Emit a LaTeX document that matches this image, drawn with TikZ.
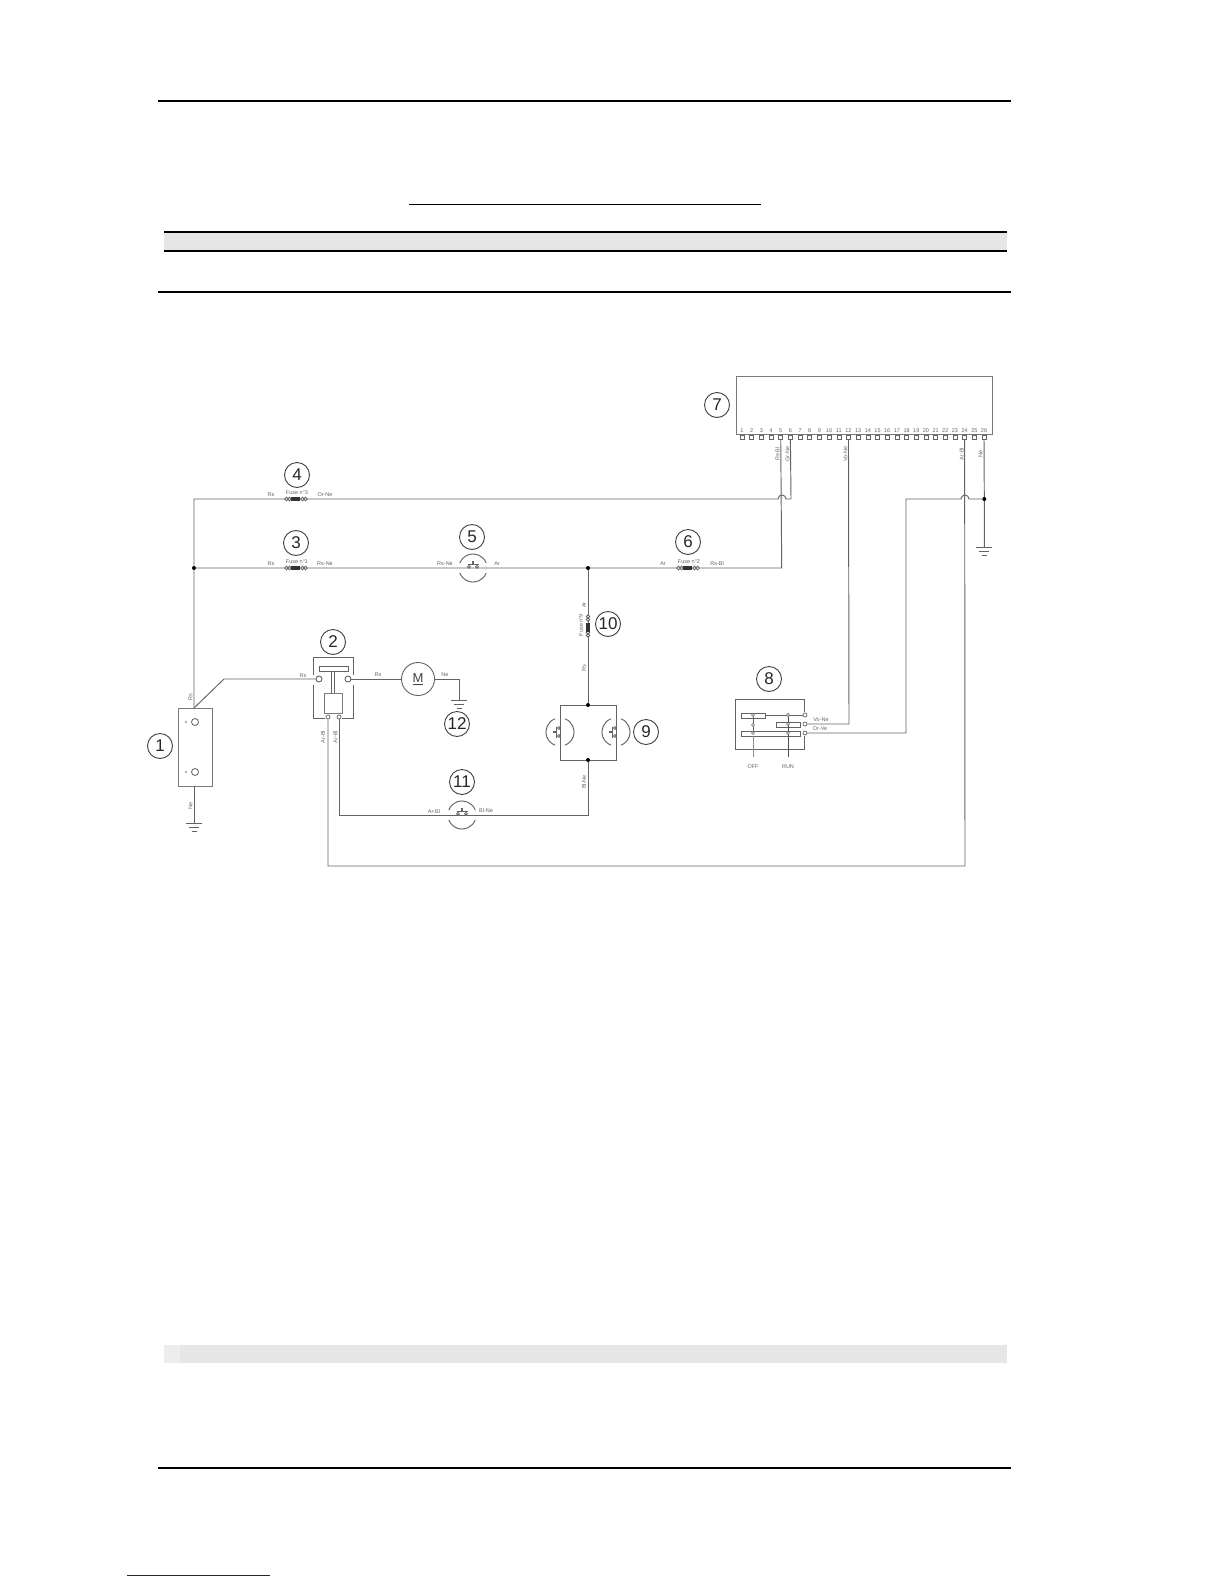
\documentclass[tikz,border=0pt]{standalone}
\usepackage{fontspec}
\setmainfont{Liberation Sans}
\definecolor{wirecol}{HTML}{636363}
\definecolor{textcol}{HTML}{666666}
\definecolor{bandcol}{HTML}{E6E6E6}
\definecolor{linkcol}{HTML}{1A1A8C}
\tikzset{
  wire/.style={draw=wirecol,line width=0.95pt,line join=miter},
  thinw/.style={draw=wirecol,line width=0.8pt},
  boxnode/.style={draw=wirecol!85,line width=0.95pt,fill=white,inner sep=0pt},
  wl/.style={font=\fontsize{5.5}{6}\selectfont,text=textcol,inner sep=0pt},
  wlr/.style={wl,rotate=90},
  callout/.style={circle,draw=black!75,line width=0.9pt,minimum size=25pt,inner sep=0pt,fill=white,font=\fontsize{17}{18}\selectfont,text=black!85},
  jdot/.style={circle,fill=black,inner sep=0pt,minimum size=4pt},
  pinnum/.style={font=\fontsize{5.5}{6}\selectfont,text=textcol,inner sep=0pt},
  pinbox/.style={draw=wirecol,line width=0.6pt,fill=white,minimum width=4pt,minimum height=3.5pt,inner sep=0pt},
  tinyc/.style={circle,draw=wirecol,line width=0.7pt,fill=white,minimum size=4pt,inner sep=0pt},
  rule/.style={line width=2.6pt,draw=black},
  rulethin/.style={line width=1.6pt,draw=black},
  pics/fusepic/.style={code={
    \draw[thinw,fill=white] (-9.5,0) circle (1.8) (-6.5,0) circle (1.8) (6.5,0) circle (1.8) (9.5,0) circle (1.8);
    \fill[black!80] (-5.5,-2) rectangle (3.5,2);
  }},
  pics/pushpic/.style={code={
    \draw[draw=wirecol,line width=0.95pt] (13.2,-5) arc[start angle=-21,end angle=-159,radius=14.1];
    \draw[draw=wirecol,line width=0.95pt] (13.2,5) arc[start angle=21,end angle=159,radius=14.1];
    \draw[thinw,fill=white] (-4,-1.2) circle (1.4) (4,-1.2) circle (1.4);
    \draw[thinw] (-5.5,-4) -- (5.5,-4);
    \draw[wirecol,line width=1.4pt] (0,-4) -- (0,-7);
  }},
  pics/groundpic/.style={code={
    \draw[wire] (-8,0) -- (8,0);
    \draw[thinw] (-5,4.5) -- (5,4.5);
    \draw[thinw] (-2.5,8.5) -- (2.5,8.5);
  }},
}
\begin{document}
\begin{tikzpicture}[x=1pt,y=-1pt]
\useasboundingbox (0,0) rectangle (1224,1584);
% page furniture
\draw[rule] (158,101) -- (1011,101);
\draw[draw=black,line width=1pt] (409,204) -- (761,204);
\fill[bandcol] (164,232) rectangle (1007,251);
\draw[rulethin] (164,232) -- (1007,232);
\draw[draw=black,line width=1.1pt] (164,251) -- (1007,251);
\draw[rulethin] (158,292) -- (1011,292);
\fill[bandcol] (164,1345) rectangle (1007,1363);
\fill[black!7] (164,1345) rectangle (180,1363);
\draw[rule] (158,1468) -- (1011,1468);
\draw[draw=linkcol,line width=1pt] (127,1575) -- (270,1575);

% ECU 7
\node[boxnode,minimum width=256pt,minimum height=58pt] (ecu) at (864,405) {};
\foreach \n in {1,...,26}{
  \pgfmathsetmacro{\px}{742+(\n-1)*9.68}
  \node[pinnum] (num\n) at (\px,430.5) {\n};
  \node[pinbox] (pin\n) at (\px,437.5) {};
}
% junctions and bends
\coordinate (tl) at (194,499);
\node[jdot] (j3) at (194,568) {};
\node[jdot] (j10) at (588,568) {};
\node[jdot] (j9t) at (588,705) {};
\node[jdot] (j9b) at (588,760) {};
\node[jdot] (j26) at (984.3,499) {};
\coordinate (t6) at (791,499);
\coordinate (h5l) at (778,499);
\coordinate (h5r) at (786,499);
\coordinate (h24l) at (961,499);
\coordinate (h24r) at (969,499);
\coordinate (orbend) at (906,499);
\coordinate (b5) at (781.7,568);
\coordinate (diag) at (224,679);

% battery 1
\node[boxnode,minimum width=34pt,minimum height=78pt] (bat) at (195,747) {};
\node[circle,draw=wirecol,line width=0.8pt,minimum size=7pt,inner sep=0pt] (batp) at (195,722) {};
\node[circle,draw=wirecol,line width=0.8pt,minimum size=7pt,inner sep=0pt] (batn) at (195,772) {};
\fill[wirecol] (186,722) circle (0.9) (186,772) circle (0.9);
\coordinate (batg) at (194,823);
\pic at (batg) {groundpic};
\draw[wire] (194,786) -- (batg);

% relay 2
\draw[wire] (313,675) -- (313,657) -- (353,657) -- (353,675);
\draw[wire] (313,685) -- (313,718) -- (325,718);
\draw[wire] (353,685) -- (353,718) -- (342,718);
\draw[thinw,fill=white] (319,666) rectangle (348,671);
\draw[thinw] (331,671) -- (331,693) (334,671) -- (334,693);
\node[boxnode,line width=0.9pt,minimum width=18pt,minimum height=20pt] (coil) at (333,703) {};
\node[tinyc] (ct1) at (328,717) {};
\node[tinyc] (ct2) at (339,717) {};
\node[circle,draw=wirecol,line width=0.9pt,fill=white,minimum size=6pt,inner sep=0pt] (rl) at (319,679) {};
\node[circle,draw=wirecol,line width=0.9pt,fill=white,minimum size=6pt,inner sep=0pt] (rr) at (348,679) {};

% motor
\node[circle,draw=wirecol,line width=0.9pt,fill=white,minimum size=33pt,inner sep=0pt,font=\fontsize{13}{14}\selectfont,text=black!75] (mot) at (418,679) {\underline{M}};
\coordinate (mr) at (459,679);
\coordinate (mg) at (459,700);
\pic at (mg) {groundpic};

% switch box 9
\coordinate (s9tl) at (560,705);
\coordinate (s9tr) at (616,705);
\coordinate (s9bl) at (560,760);
\coordinate (s9br) at (616,760);
\coordinate (s5) at (473,568);
\coordinate (s11) at (462,815);
\coordinate (br11) at (588,815);
\coordinate (bl11) at (339,815);
\coordinate (blow) at (328,866);
\coordinate (brow) at (965,866);
\coordinate (gnd26) at (984.3,547);
\pic at (gnd26) {groundpic};

% block 8
\draw[wire] (804,712) -- (804,699) -- (735,699) -- (735,749) -- (804,749) -- (804,736);
\draw[thinw,fill=white] (741,713) rectangle (765,718);
\draw[thinw,fill=white] (776,722) rectangle (800,727);
\draw[thinw,fill=white] (741,731) rectangle (800,736);
\draw[thinw] (765,715) -- (803,715);
\draw[thinw] (753,715) -- (753,733);
\draw[draw=black!45,line width=0.8pt] (753,736) -- (753,757);
\draw[draw=black!70,line width=0.8pt] (788,713) -- (788,757);
\foreach \nm/\xx/\yy in {d1/753/715,d2/753/725,d3/753/733,d4/788/715,d5/788/724,d6/788/733}{
  \node[circle,draw=wirecol,line width=0.6pt,fill=white,minimum size=3pt,inner sep=0pt] (\nm) at (\xx,\yy) {};
}
\node[tinyc] (t8a) at (805,715) {};
\node[tinyc] (t8b) at (805,724) {};
\node[tinyc] (t8c) at (805,733) {};
\coordinate (v12) at (849,724);
\coordinate (or8) at (906,733);

% wires
\draw[wire] (bat.north -| j3) -- (j3) -- (tl) -- (h5l) arc[start angle=180,end angle=360,radius=4] -- (t6) -- (pin6.south);
\draw[wire] (j3) -- (j10) -- (b5) -- (pin5.south);
\draw[wire] (j10) -- (j9t);
\draw[wire] (j9t) -- (s9tl) -- (s9bl) -- (j9b) -- (s9br) -- (s9tr) -- (j9t);
\draw[wire] (j9b) -- (br11) -- (bl11) -- (ct2.south);
\draw[wire] (ct1.south) -- (blow) -- (brow) -- (pin24.south);
\draw[wire] (194,708) -- (diag) -- (rl.west);
\draw[wire] (rr.east) -- (mot.west);
\draw[wire] (mot.east) -- (mr) -- (mg);
\draw[wire] (pin26.south) -- (j26) -- (gnd26);
\draw[wire] (j26) -- (h24r) arc[start angle=360,end angle=180,radius=4] -- (orbend) -- (or8) -- (t8c.east);
\draw[wire] (pin12.south) -- (v12) -- (t8b.east);

% inline devices
\pic at (296,499) {fusepic};
\pic at (296,568) {fusepic};
\pic at (688,568) {fusepic};
\pic[rotate=90] at (588,626) {fusepic};
\pic at (s5) {pushpic};
\pic at (s11) {pushpic};
\pic[rotate=90] at (560,732) {pushpic};
\pic[rotate=90] at (616,732) {pushpic};

% callouts
\node[callout] (c1) at (160,746) {1};
\node[callout] (c2) at (333,642) {2};
\node[callout] (c3) at (296,543) {3};
\node[callout] (c4) at (297,475) {4};
\node[callout] (c5) at (472,537) {5};
\node[callout] (c6) at (688,542) {6};
\node[callout] (c7) at (717,405) {7};
\node[callout] (c8) at (769,679) {8};
\node[callout] (c9) at (646,732) {9};
\node[callout] (c10) at (608,624) {10};
\node[callout] (c11) at (462,782) {11};
\node[callout] (c12) at (457,724) {12};

% wire labels
\node[wl] (l1) at (271,495) {Rs};
\node[wl] (l2) at (297,493) {Fuse n°3};
\node[wl] (l3) at (325,495) {Or-Ne};
\node[wl] (l4) at (271,564) {Rs};
\node[wl] (l5) at (297,562) {Fuse n°1};
\node[wl] (l6) at (325,564) {Rs-Ne};
\node[wl] (l7) at (445,564) {Rs-Ne};
\node[wl] (l8) at (497,564) {Ar};
\node[wl] (l9) at (663,564) {Ar};
\node[wl] (l10) at (689,562) {Fuse n°2};
\node[wl] (l11) at (717,564) {Rs-Bl};
\node[wlr] (l12) at (584,605) {Ar};
\node[wlr] (l13) at (581,625) {Fuse n°9};
\node[wlr] (l14) at (584,668) {Rs};
\node[wlr] (l15) at (190.5,697) {Rs};
\node[wlr] (l16) at (190.5,806) {Ne};
\node[wl] (l17) at (303,676) {Rs};
\node[wl] (l18) at (378,675) {Rs};
\node[wl] (l19) at (445,675) {Ne};
\node[wlr] (l20) at (323,737) {Ar-Bl};
\node[wlr] (l21) at (335.5,737) {Ar-Bl};
\node[wlr] (l22) at (584,782) {Bl-Ne};
\node[wl] (l23) at (434,811) {Ar-Bl};
\node[wl] (l24) at (486,811) {Bl-Ne};
\node[wl] (l25) at (821,720) {Vo-Ne};
\node[wl] (l26) at (820,729) {Or-Ve};
\node[wl] (l27) at (753,767) {OFF};
\node[wl] (l28) at (788,767) {RUN};
\node[wlr] (l29) at (777.5,454) {Rs-Bl};
\node[wlr] (l30) at (787.5,454) {Gr-Ne};
\node[wlr] (l31) at (845.5,454) {Vo-Ne};
\node[wlr] (l32) at (961.5,454) {Ar-Bl};
\node[wlr] (l33) at (980.5,454) {Ne};
\end{tikzpicture}
\end{document}
